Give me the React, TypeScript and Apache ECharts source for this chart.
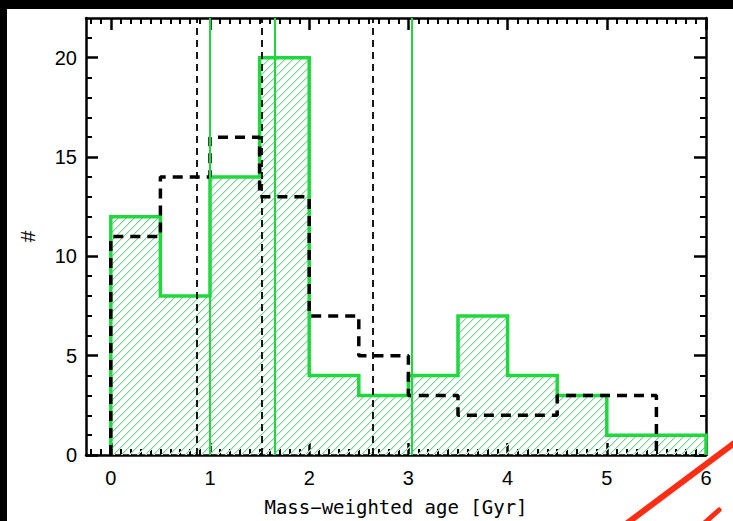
import React, { useEffect, useRef } from "react";
import * as echarts from "echarts";

// Histogram bins (Gyr) and counts for the two samples
const BIN_EDGES = [0, 0.5, 1, 1.5, 2, 2.5, 3, 3.5, 4, 4.5, 5, 5.5, 6];
const GREEN_COUNTS = [12, 8, 14, 20, 4, 3, 4, 7, 4, 3, 1, 1];
const BLACK_COUNTS = [11, 14, 16, 13, 7, 5, 3, 2, 2, 3, 3, 0];

// Vertical reference lines (ages in Gyr)
const GREEN_MARKERS = [1.0, 1.65, 3.03];
const BLACK_MARKERS = [0.87, 1.52, 2.64];

// Axis ranges and labelled ticks
const X_RANGE = [-0.25, 6];
const Y_RANGE = [0, 22];
const X_TICKS = [0, 1, 2, 3, 4, 5, 6];
const Y_TICKS = [0, 5, 10, 15, 20];

const GREEN = "#1fd83c";
const TICK_FONT = "Liberation Sans, Arial, sans-serif";

const xMinorTicks: number[] = [];
for (let k = -2; k < 60; k++) if (k % 10 !== 0) xMinorTicks.push(k / 10);
const yMinorTicks: number[] = [];
for (let k = 1; k <= 21; k++) if (k % 5 !== 0) yMinorTicks.push(k);

// Outline of a histogram: up from zero at the first edge, across each bin,
// and back down to zero after the last non-empty bin.
function stepOutline(edges: number[], counts: number[]): number[][] {
  let last = counts.length - 1;
  while (last > 0 && counts[last] === 0) last--;
  const pts: number[][] = [[edges[0], 0]];
  for (let i = 0; i <= last; i++) {
    pts.push([edges[i], counts[i]]);
    pts.push([edges[i + 1], counts[i]]);
  }
  pts.push([edges[last + 1], 0]);
  return pts;
}

// Small tile with one diagonal stroke, repeated to hatch the filled histogram
function makeHatch(): HTMLCanvasElement {
  const c = document.createElement("canvas");
  c.width = 8;
  c.height = 8;
  const g = c.getContext("2d")!;
  for (let i = 0; i < 8; i++) {
    g.fillStyle = "#c2ebcd";
    g.fillRect(i, (8 - i) % 8, 1, 1);
    g.fillStyle = "#78d292";
    g.fillRect(i, 7 - i, 1, 1);
  }
  return c;
}

const black = "#000";

function xAxisPair(position: "bottom" | "top", withLabels: boolean) {
  const base = {
    type: "value" as const,
    min: X_RANGE[0],
    max: X_RANGE[1],
    position,
    splitLine: { show: false },
  };
  return [
    {
      ...base,
      axisLine: { show: true, onZero: false, lineStyle: { color: black, width: 2.5 } },
      axisTick: { show: true, inside: true, length: 12, customValues: X_TICKS, lineStyle: { color: black, width: 2.5 } },
      axisLabel: withLabels
        ? { show: true, customValues: X_TICKS, margin: 13, color: black, fontSize: 20, fontFamily: TICK_FONT }
        : { show: false },
      ...(withLabels
        ? {
            name: "Mass\u2212weighted age [Gyr]",
            nameLocation: "middle" as const,
            nameGap: 42,
            nameTextStyle: { color: black, fontSize: 19, fontFamily: "DejaVu Sans Mono, monospace" },
          }
        : {}),
    },
    {
      ...base,
      axisLine: { show: false, onZero: false },
      axisTick: { show: true, inside: true, length: 6, customValues: xMinorTicks, lineStyle: { color: black, width: 2 } },
      axisLabel: { show: false },
    },
  ];
}

function yAxisPair(position: "left" | "right", withLabels: boolean) {
  const base = {
    type: "value" as const,
    min: Y_RANGE[0],
    max: Y_RANGE[1],
    position,
    splitLine: { show: false },
  };
  const labelStyle = { color: black, fontSize: 20, fontFamily: TICK_FONT, margin: 9 };
  return [
    {
      ...base,
      axisLine: { show: true, onZero: false, lineStyle: { color: black, width: 2.5 } },
      axisTick: { show: true, inside: true, length: 12, customValues: Y_TICKS, lineStyle: { color: black, width: 2.5 } },
      axisLabel: withLabels
        ? { show: true, customValues: Y_TICKS.filter((v) => v !== 0), padding: [6, 0, 0, 0], ...labelStyle }
        : { show: false },
      ...(withLabels
        ? {
            name: "#",
            nameLocation: "middle" as const,
            nameGap: 48,
            nameTextStyle: { color: black, fontSize: 21, fontFamily: TICK_FONT },
          }
        : {}),
    },
    {
      ...base,
      axisLine: { show: false, onZero: false },
      axisTick: { show: true, inside: true, length: 6, customValues: yMinorTicks, lineStyle: { color: black, width: 2 } },
      axisLabel: withLabels
        ? { show: true, customValues: [0], padding: [0, 0, 12, 0], ...labelStyle }
        : { show: false },
    },
  ];
}

export default function App() {
  const ref = useRef<HTMLDivElement>(null);

  useEffect(() => {
    if (!ref.current) return;
    const chart = echarts.init(ref.current, undefined, { renderer: "svg" });
    const hatch = makeHatch();

    chart.setOption({
      animation: false,
      backgroundColor: "#fff",
      grid: { left: 86, right: 27, top: 18, bottom: 64, containLabel: false },
      xAxis: [...xAxisPair("bottom", true), ...xAxisPair("top", false)],
      yAxis: [...yAxisPair("left", true), ...yAxisPair("right", false)],
      series: [
        {
          name: "green sample",
          type: "line",
          xAxisIndex: 0,
          yAxisIndex: 0,
          data: stepOutline(BIN_EDGES, GREEN_COUNTS),
          showSymbol: false,
          symbol: "none",
          lineStyle: { color: GREEN, width: 3.5, join: "miter" },
          areaStyle: { color: { image: hatch, repeat: "repeat" }, opacity: 1 },
          z: 2,
          markLine: {
            silent: true,
            symbol: "none",
            label: { show: false },
            lineStyle: { color: GREEN, width: 2, type: "solid" },
            data: GREEN_MARKERS.map((x) => ({ xAxis: x })),
          },
        },
        {
          name: "black sample",
          type: "line",
          xAxisIndex: 0,
          yAxisIndex: 0,
          data: stepOutline(BIN_EDGES, BLACK_COUNTS),
          showSymbol: false,
          symbol: "none",
          lineStyle: { color: black, width: 3.5, type: [10, 7] },
          z: 3,
          markLine: {
            silent: true,
            symbol: "none",
            label: { show: false },
            lineStyle: { color: black, width: 1.8, type: [7, 5] },
            data: BLACK_MARKERS.map((x) => ({ xAxis: x })),
          },
        },
      ],
      graphic: [
        { type: "rect", z: 100, shape: { x: 0, y: 0, width: 733, height: 9 }, style: { fill: "#000" } },
        { type: "rect", z: 100, shape: { x: 0, y: 0, width: 7, height: 521 }, style: { fill: "#000" } },
        {
          type: "line",
          z: 100,
          shape: { x1: 745, y1: 435, x2: 618, y2: 530 },
          style: { stroke: "#fb2e14", lineWidth: 6 },
        },
        {
          type: "line",
          z: 100,
          shape: { x1: 719, y1: 510, x2: 700, y2: 527 },
          style: { stroke: "#fb2e14", lineWidth: 5, lineCap: "round" },
        },
      ],
    });

    return () => chart.dispose();
  }, []);

  return (
    <div
      ref={ref}
      style={{ position: "fixed", left: 0, top: 0, width: 733, height: 521, background: "#fff" }}
    />
  );
}
